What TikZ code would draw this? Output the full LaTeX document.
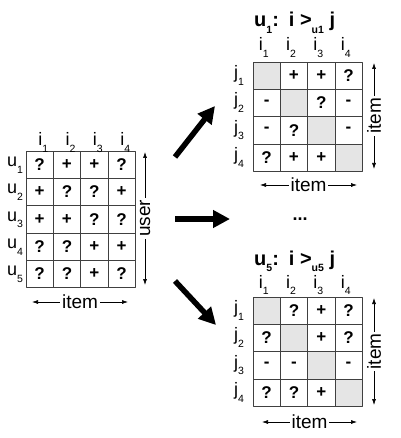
\documentclass[tikz,border=0pt]{standalone}
\usepackage{fontspec}
\setmainfont{Liberation Sans}
\usetikzlibrary{arrows.meta}
\newcommand\idx[1]{\raisebox{-6.5pt}{\fontsize{10.5}{10.5}\selectfont#1}}
\begin{document}
\begin{tikzpicture}[x=1pt,y=-1pt,line cap=round,line join=round,
  cell/.style={draw=black!75,line width=0.7pt,minimum size=27.3pt,inner sep=0pt,outer sep=0pt,font=\fontsize{17}{17}\selectfont\bfseries},
  diag/.style={cell,fill=black!10},
  lab/.style={anchor=base west,inner sep=0pt,font=\fontsize{18}{18}\selectfont},
  ttl/.style={anchor=base west,inner sep=0pt,font=\fontsize{20}{20}\selectfont\bfseries},
  axis/.style={line width=0.6pt,{Latex[length=6pt,width=4pt]}-{Latex[length=6pt,width=4pt]}},
  axlab/.style={fill=white,inner sep=2pt,font=\fontsize{19}{19}\selectfont},
  bigarrow/.style={line width=5.5pt,line cap=butt,-{Triangle[length=17pt,width=17pt]}}]
  \useasboundingbox (0,0) rectangle (400,438);
  % user-item matrix
  \foreach \vals [count=\r] in {{?,+,+,?},{+,?,?,+},{+,+,?,?},{?,?,+,+},{?,?,+,?}}
    \foreach \v [count=\c] in \vals
      \node[cell] (L-\r-\c) at ({26+(\c-0.5)*27.3},{151+(\r-0.5)*27.3}) {\v};
  \foreach \c in {1,...,4}
    \node[lab] (Li-\c) at ({24.5+(\c-0.5)*27.3},146) {i\idx{\c}};
  \foreach \r in {1,...,5}
    \node[lab] (Lu-\r) at (7,{153+(\r-0.5)*27.3}) {u\idx{\r}};
  \draw[axis] (145,152) -- node[axlab,rotate=90] (Luser) {user} (145,285);
  \draw[axis] (32,302) -- node[axlab] (Litem) {item} (128,302);
  % pairwise matrix for u1
  \node[ttl] (At) at (254,27) {u\idx{1}:\hspace{10pt}i >\idx{u1} j};
  \foreach \vals [count=\r] in {{{},+,+,?},{-,{},?,-},{-,?,{},-},{?,+,+,{}}}
  {
    \foreach \v [count=\c] in \vals
    {
      \ifnum\r=\c \def\sty{diag}\else\def\sty{cell}\fi
      \node[\sty] (A-\r-\c) at ({253+(\c-0.5)*27.3},{62+(\r-0.5)*27.3}) {\v};
    }
  }
  \foreach \c in {1,...,4}
    \node[lab] (Ai-\c) at ({245+(\c-0.5)*27.3},51) {i\idx{\c}};
  \foreach \r in {1,...,4}
    \node[lab] (Aj-\r) at (234,{65+(\r-0.5)*27.3}) {j\idx{\r}};
  \draw[axis] (374,63) -- node[axlab,rotate=90] (Aitemv) {item} (374,169);
  \draw[axis] (260,185) -- node[axlab] (Aitem) {item} (357,185);
  % dots
  \node[font=\fontsize{18}{18}\selectfont\bfseries] (dots) at (300,219) {...};
  % pairwise matrix for u5
  \node[ttl] (Bt) at (254,265) {u\idx{5}:\hspace{10pt}i >\idx{u5} j};
  \foreach \vals [count=\r] in {{{},?,+,?},{?,{},+,?},{-,-,{},-},{?,?,+,{}}}
  {
    \foreach \v [count=\c] in \vals
    {
      \ifnum\r=\c \def\sty{diag}\else\def\sty{cell}\fi
      \node[\sty] (B-\r-\c) at ({253+(\c-0.5)*27.3},{297+(\r-0.5)*27.3}) {\v};
    }
  }
  \foreach \c in {1,...,4}
    \node[lab] (Bi-\c) at ({245+(\c-0.5)*27.3},288) {i\idx{\c}};
  \foreach \r in {1,...,4}
    \node[lab] (Bj-\r) at (234,{300+(\r-0.5)*27.3}) {j\idx{\r}};
  \draw[axis] (374,298) -- node[axlab,rotate=90] (Bitemv) {item} (374,405);
  \draw[axis] (262,422) -- node[axlab] (Bitem) {item} (357,422);
  % arrows
  \coordinate (up-s) at (175,157);
  \coordinate (up-e) at (215,106);
  \coordinate (mid-s) at (175,219);
  \coordinate (mid-e) at (230,219);
  \coordinate (low-s) at (175,281);
  \coordinate (low-e) at (216,325);
  \draw[bigarrow] (up-s) -- (up-e);
  \draw[bigarrow] (mid-s) -- (mid-e);
  \draw[bigarrow] (low-s) -- (low-e);
\end{tikzpicture}
\end{document}
